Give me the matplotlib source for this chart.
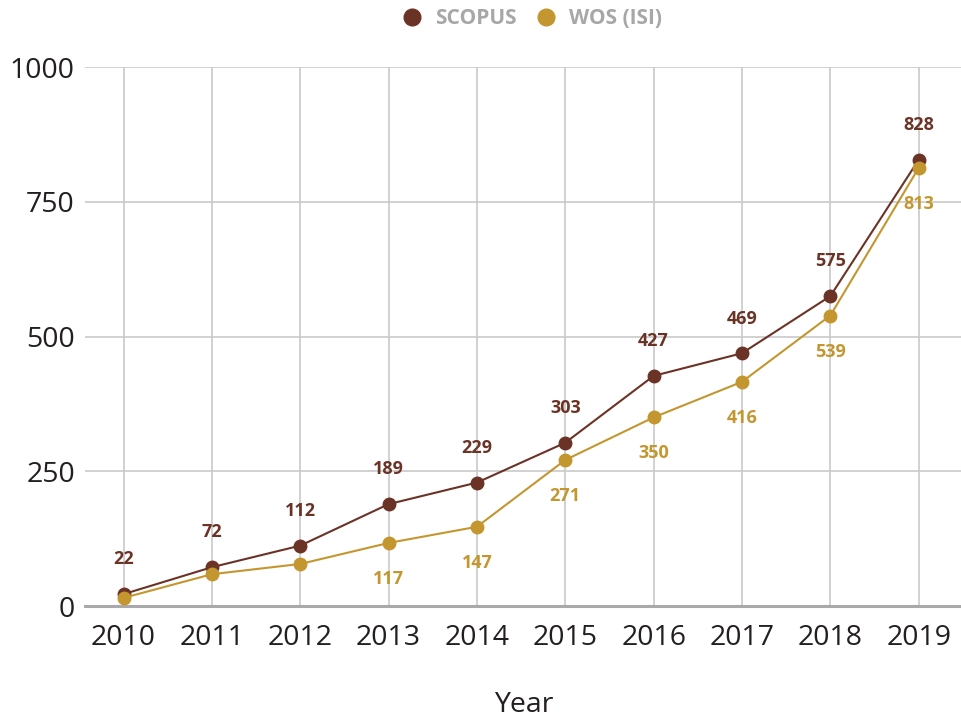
import matplotlib
matplotlib.use("Agg")
import matplotlib.pyplot as plt
from matplotlib.lines import Line2D

years = [2010, 2011, 2012, 2013, 2014, 2015, 2016, 2017, 2018, 2019]
scopus = [22, 72, 112, 189, 229, 303, 427, 469, 575, 828]
wos = [15, 59, 78, 117, 147, 271, 350, 416, 539, 813]
# WOS labels for the first three years are not shown in the chart
wos_labels = [None, None, None, 117, 147, 271, 350, 416, 539, 813]
y_ticks = [0, 250, 500, 750, 1000]

scopus_color = "#6b3326"
wos_color = "#c4962f"
grid_color = "#c9c9c9"

plt.rcParams["font.family"] = ["Open Sans", "DejaVu Sans"]

fig = plt.figure(figsize=(9.62, 7.21), dpi=100)
ax = fig.add_axes([0.088, 0.1595, 0.912, 0.7475])

ax.plot(years, scopus, color=scopus_color, lw=1.5, marker="o", ms=9,
        clip_on=False, zorder=4)
ax.plot(years, wos, color=wos_color, lw=1.5, marker="o", ms=9,
        clip_on=False, zorder=5)

for x, v in zip(years, scopus):
    ax.annotate(str(v), (x, v), xytext=(0, 25), textcoords="offset points",
                ha="center", va="center", fontsize=13, fontweight="bold",
                color=scopus_color)
for x, v, lab in zip(years, wos, wos_labels):
    if lab is None:
        continue
    ax.annotate(str(lab), (x, v), xytext=(0, -26), textcoords="offset points",
                ha="center", va="center", fontsize=13, fontweight="bold",
                color=wos_color)

ax.set_xlim(2009.56, 2019.49)
ax.set_ylim(0, 1000)
ax.set_xticks(years)
ax.set_yticks(y_ticks)
ax.tick_params(axis="both", length=0, labelsize=20.5, colors="#231f20")
ax.tick_params(axis="y", pad=7)
ax.tick_params(axis="x", pad=13)

ax.grid(True, color=grid_color, lw=1.2)
ax.set_axisbelow(True)
for s in ["top", "right", "left"]:
    ax.spines[s].set_visible(False)
ax.spines["bottom"].set_color("#a9a9ab")
ax.spines["bottom"].set_linewidth(2.2)

ax.set_xlabel("Year", fontsize=20.5, color="#231f20", labelpad=28)

handles = [
    Line2D([], [], ls="none", marker="o", ms=12, color=scopus_color),
    Line2D([], [], ls="none", marker="o", ms=12, color=wos_color),
]
leg = fig.legend(handles, ["SCOPUS", "WOS (ISI)"], loc="center",
                 bbox_to_anchor=(0.553, 0.974), ncol=2, frameon=False,
                 handletextpad=0.6, columnspacing=0.9, handlelength=1.0,
                 prop={"size": 15, "weight": "bold"})
for t in leg.get_texts():
    t.set_color("#a7a7a9")

fig.savefig("out.png", dpi=100)
